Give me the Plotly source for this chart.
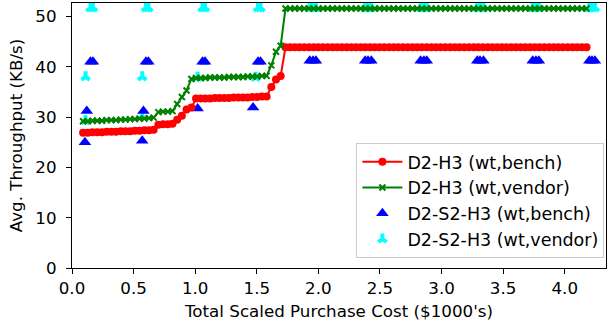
import plotly.graph_objects as go

# Line series: cost ($1000's) and throughput (KB/s)
cost = [0.090, 0.128, 0.166, 0.205, 0.243, 0.281, 0.319, 0.357, 0.396, 0.434,
        0.472, 0.510, 0.548, 0.587, 0.625, 0.663, 0.701, 0.739, 0.778, 0.816,
        0.854, 0.892, 0.930, 0.969, 1.007, 1.045, 1.083, 1.121, 1.160, 1.198,
        1.236, 1.274, 1.312, 1.351, 1.389, 1.427, 1.465, 1.503, 1.542, 1.580,
        1.618, 1.656, 1.694, 1.733, 1.771, 1.809, 1.847, 1.885, 1.924, 1.962,
        2.000, 2.038, 2.076, 2.115, 2.153, 2.191, 2.229, 2.267, 2.306, 2.344,
        2.382, 2.420, 2.458, 2.497, 2.535, 2.573, 2.611, 2.649, 2.688, 2.726,
        2.764, 2.802, 2.840, 2.879, 2.917, 2.955, 2.993, 3.031, 3.070, 3.108,
        3.146, 3.184, 3.222, 3.261, 3.299, 3.337, 3.375, 3.413, 3.452, 3.490,
        3.528, 3.566, 3.604, 3.643, 3.681, 3.719, 3.757, 3.795, 3.834, 3.872,
        3.910, 3.948, 3.986, 4.025, 4.063, 4.101, 4.139, 4.177]

d2h3_bench = ([26.9, 26.9, 27.0, 27.0, 27.0, 27.1, 27.1, 27.1, 27.2, 27.2,
               27.2, 27.3, 27.3, 27.4, 27.4, 27.5,
               28.5, 28.6, 28.6, 28.7,
               29.5, 30.3, 31.5, 31.9,
               33.7, 33.7, 33.7, 33.7, 33.8, 33.8, 33.8, 33.8, 33.9, 33.9,
               33.9, 33.9, 34.0, 34.0, 34.1, 34.1,
               36.0, 37.5, 38.2]
              + [43.9] * 65)

d2h3_vendor = ([29.2, 29.2, 29.3, 29.3, 29.3, 29.4, 29.4, 29.4, 29.5, 29.5,
                29.6, 29.6, 29.7, 29.7, 29.8, 29.9,
                31.0, 31.1, 31.1, 31.2,
                32.6, 34.0, 35.3, 37.6,
                37.8, 37.8, 37.8, 37.9, 37.9, 37.9, 37.9, 38.0, 38.0, 38.0,
                38.0, 38.1, 38.1, 38.1, 38.2, 38.2,
                40.3, 43.0, 44.2]
               + [51.6] * 65)

# Scatter series
s2_bench_x = [0.105, 0.12, 0.15, 0.17, 0.57, 0.58, 0.60, 0.62, 1.02, 1.06, 1.08,
              1.47, 1.51, 1.53,
              1.93, 1.956, 1.98, 2.38, 2.403, 2.43, 2.83, 2.857, 2.88,
              3.29, 3.312, 3.34, 3.74, 3.766, 3.79, 4.20, 4.221, 4.245]
s2_bench_y = [25.0, 31.2, 41.0, 41.0, 25.3, 31.2, 41.0, 41.0, 31.7, 41.0, 41.0,
              31.9, 41.0, 41.0,
              41.2, 41.2, 41.2, 41.2, 41.2, 41.2, 41.2, 41.2, 41.2,
              41.2, 41.2, 41.2, 41.2, 41.2, 41.2, 41.2, 41.2, 41.2]

s2_vendor_x = [0.11, 0.11, 0.15, 0.17, 0.57, 0.57, 0.60, 0.62, 1.02, 1.06, 1.08,
               1.49, 1.51, 1.53,
               1.93, 1.956, 1.98, 2.38, 2.403, 2.43, 2.83, 2.857, 2.88,
               3.29, 3.312, 3.34, 3.74, 3.766, 3.79, 4.20, 4.221, 4.245]
s2_vendor_y = [29.3, 38.0, 51.7, 51.7, 30.2, 38.0, 51.7, 51.7, 37.9, 51.7, 51.7,
               37.9, 51.7, 51.7,
               51.7, 51.7, 51.7, 51.7, 51.7, 51.7, 51.7, 51.7, 51.7,
               51.7, 51.7, 51.7, 51.7, 51.7, 51.7, 51.7, 51.7, 51.7]

x_ticks = [0.0, 0.5, 1.0, 1.5, 2.0, 2.5, 3.0, 3.5, 4.0]
y_ticks = [0, 10, 20, 30, 40, 50]

FONT = "DejaVu Sans"
FS = 16.7

fig = go.Figure()
fig.add_trace(go.Scatter(
    x=s2_vendor_x, y=s2_vendor_y, mode="markers", name="D2-S2-H3 (wt,vendor)",
    marker=dict(symbol="y-up", size=7, color="#00FFFF",
                line=dict(color="#00FFFF", width=4)),
    showlegend=False))
fig.add_trace(go.Scatter(
    x=s2_bench_x, y=s2_bench_y, mode="markers", name="D2-S2-H3 (wt,bench)",
    marker=dict(symbol="triangle-up", size=11, color="#0000FF", line=dict(width=0)),
    showlegend=False))
fig.add_trace(go.Scatter(
    x=cost, y=d2h3_bench, mode="lines+markers", name="D2-H3 (wt,bench)",
    line=dict(color="#FF0000", width=2),
    marker=dict(symbol="circle", size=8, color="#FF0000")))
fig.add_trace(go.Scatter(
    x=cost, y=d2h3_vendor, mode="lines+markers", name="D2-H3 (wt,vendor)",
    line=dict(color="#008000", width=2),
    marker=dict(symbol="x-thin", size=6, color="#008000",
                line=dict(color="#008000", width=2))))
# legend entries for the scatter series (drawn in legend order)
fig.add_trace(go.Scatter(
    x=[None], y=[None], mode="markers", name="D2-S2-H3 (wt,bench)",
    marker=dict(symbol="triangle-up", size=11, color="#0000FF", line=dict(width=0))))
fig.add_trace(go.Scatter(
    x=[None], y=[None], mode="markers", name="D2-S2-H3 (wt,vendor)",
    marker=dict(symbol="y-up", size=7, color="#00FFFF",
                line=dict(color="#00FFFF", width=4))))

axis_common = dict(
    showgrid=False, zeroline=False, showline=True, linecolor="black", linewidth=1.3,
    mirror=True, ticks="outside", ticklen=5, tickwidth=1.2, tickcolor="black",
    tickfont=dict(family=FONT, size=FS, color="black"), automargin=False,
)

fig.update_layout(
    width=611, height=332,
    margin=dict(l=72, r=5, t=3, b=64),
    paper_bgcolor="white", plot_bgcolor="white",
    font=dict(family=FONT, size=FS, color="black"),
    xaxis=dict(range=[0, 4.335], tickvals=x_ticks,
               ticktext=[f"{v:.1f}" for v in x_ticks],
               title=dict(text="Total Scaled Purchase Cost ($1000's)",
                          font=dict(family=FONT, size=FS), standoff=8),
               **axis_common),
    yaxis=dict(range=[0, 52.7], tickvals=y_ticks, ticklabelstandoff=6,
               title=dict(text="Avg. Throughput (KB/s)",
                          font=dict(family=FONT, size=FS), standoff=8),
               **axis_common),
    legend=dict(x=0.997, y=0.038, xanchor="right", yanchor="bottom",
                bgcolor="rgba(255,255,255,0.85)", bordercolor="#cccccc", borderwidth=1,
                font=dict(family=FONT, size=17.5, color="black"),
                itemwidth=40, tracegroupgap=0),
)

fig.write_html("out.html", config={"displayModeBar": False},
               post_script="document.body.style.margin='0';document.body.style.padding='0';")
